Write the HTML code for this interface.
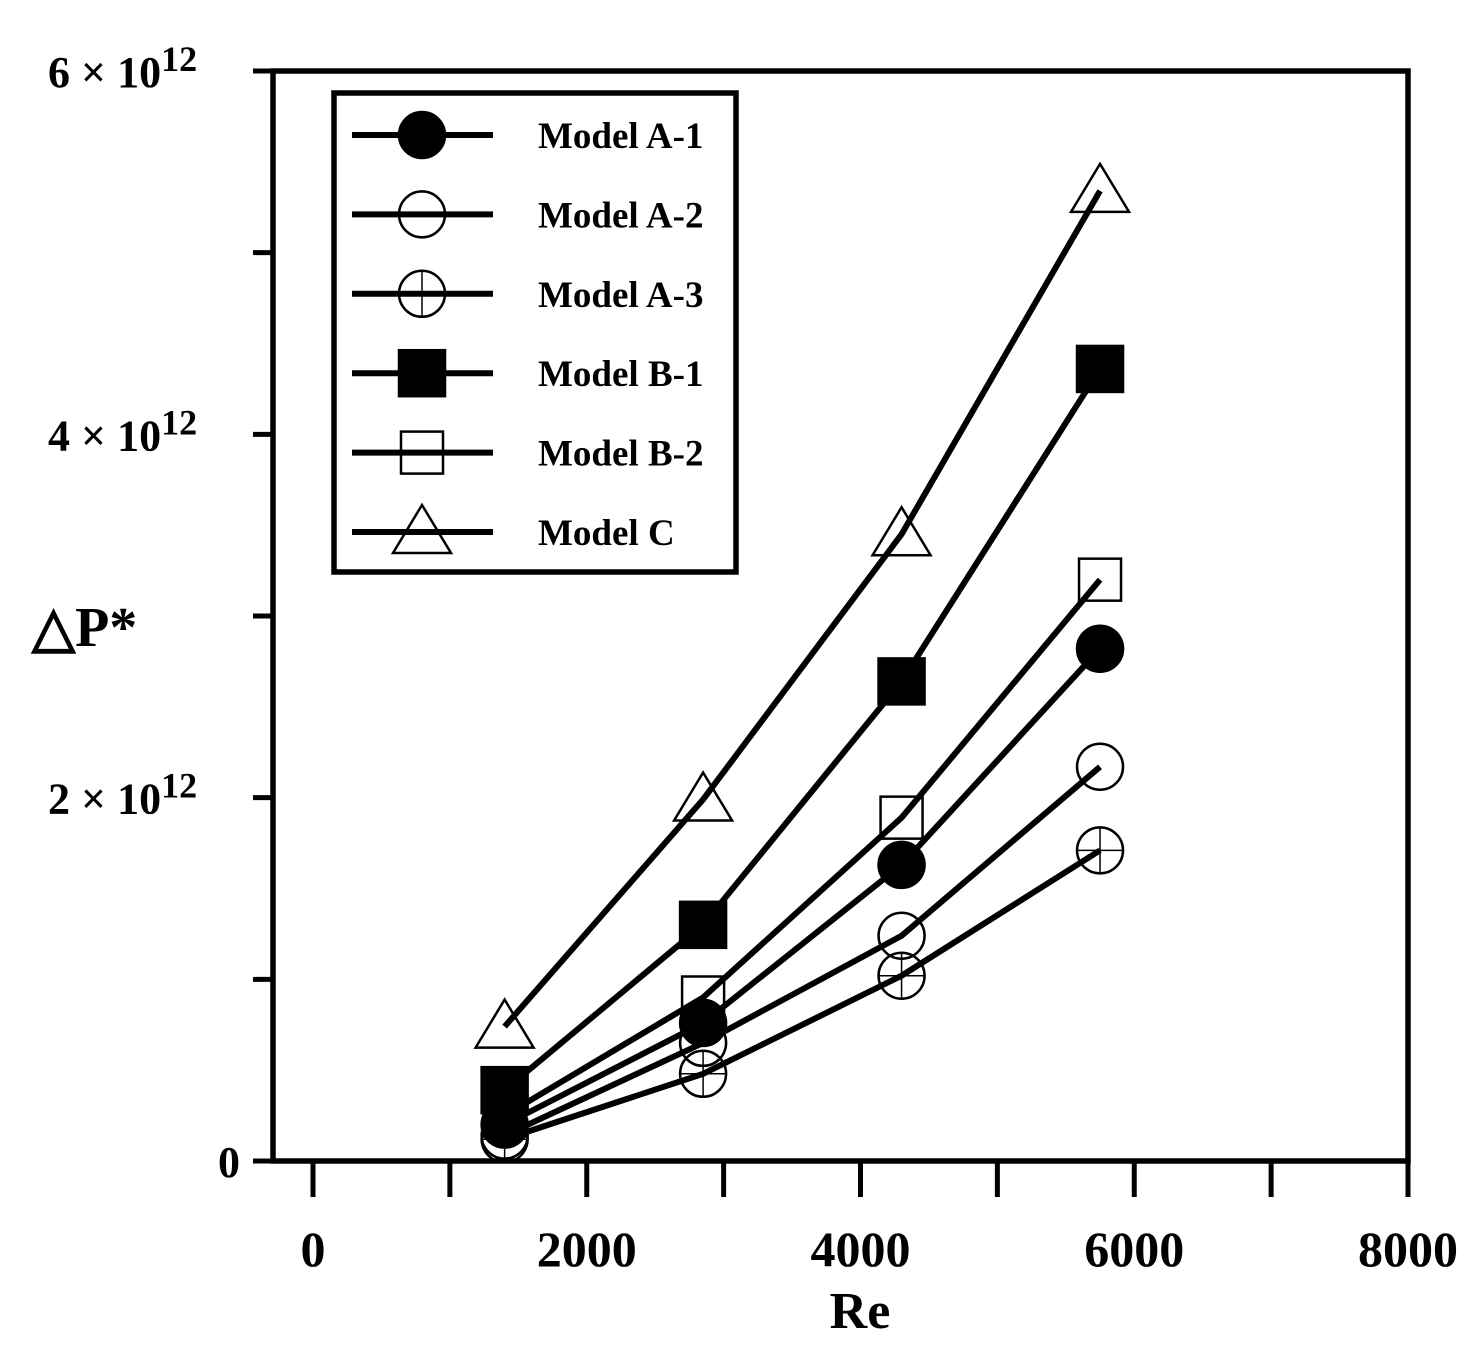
<!DOCTYPE html>
<html><head><meta charset="utf-8"><style>
html,body{margin:0;padding:0;background:#fff;}
svg{display:block;font-family:"Liberation Serif",serif;font-weight:bold;}
</style></head><body>
<svg id="chart" width="1483" height="1357" viewBox="0 0 1483 1357">
<g id="axes"></g>
<g id="series"></g>
<g id="legend"></g>
</svg>
<script>
const reValues = [1400, 2850, 4300, 5750];
const seriesNames = ["Model A-1","Model A-2","Model A-3","Model B-1","Model B-2","Model C"];
const seriesMarkers = ["circleFilled","circleOpen","circlePlus","squareFilled","squareOpen","triangle"];
const modelA1 = [0.20, 0.76, 1.63, 2.82];
const modelA2 = [0.14, 0.65, 1.24, 2.17];
const modelA3 = [0.12, 0.48, 1.02, 1.71];
const modelB1 = [0.39, 1.30, 2.64, 4.36];
const modelB2 = [0.25, 0.90, 1.89, 3.20];
const modelC = [0.74, 1.99, 3.45, 5.34];
const xTicks = [0, 2000, 4000, 6000, 8000];
const yTickMantissa = [0, 2, 4, 6];

const NS="http://www.w3.org/2000/svg";
const X0=313, X1=1408, Y0=1161, Y1=71, LEFT=273;
const xs=v=>X0+(v/8000)*(X1-X0);
const ys=v=>Y0-(v/6)*(Y0-Y1);
function mk(tag,attrs,parent){const e=document.createElementNS(NS,tag);for(const k in attrs)e.setAttribute(k,attrs[k]);parent.appendChild(e);return e;}
const axes=document.getElementById('axes');
let f=mk('path',{d:`M${LEFT},${Y1} H${X1} V${Y0} H${LEFT} Z`,fill:'none',stroke:'#000','stroke-width':5.5},axes);


for(let v=0;v<=8000;v+=1000){
  const t=mk('line',{x1:xs(v),x2:xs(v),y1:Y0,y2:Y0+36,stroke:'#000','stroke-width':5},axes);
  
  
}
xTicks.forEach(v=>{
  const t=mk('text',{x:xs(v),y:1266,'text-anchor':'middle','font-size':50},axes);
  t.textContent=String(v);
  
  
});
for(let v=0;v<=6;v+=1){
  const t=mk('line',{x1:LEFT-20,x2:LEFT,y1:ys(v),y2:ys(v),stroke:'#000','stroke-width':5},axes);
  
  
}
yTickMantissa.forEach(m=>{
  const t=mk('text',{x:240,y:ys(m)+16,'text-anchor':'end','font-size':44},axes);
  if(m===0){t.textContent='0';}
  else{
    t.setAttribute('x',48);t.setAttribute('text-anchor','start');
    const a=mk('tspan',{},t);a.textContent=m+' × 10';
    const b=mk('tspan',{dy:-16,'font-size':36},t);b.textContent='12';
  }
  
  
});
let xt=mk('text',{x:860,y:1328,'text-anchor':'middle','font-size':52},axes);xt.textContent='Re';


let yt=mk('text',{x:32,y:646,'font-size':56},axes);yt.textContent='△P*';



function marker(type,cx,cy,parent){
  const g=mk('g',{},parent);
  const s={stroke:'#000','stroke-width':2.5};
  if(type==='circleFilled')mk('circle',{cx,cy,r:23,fill:'#000',...s},g);
  if(type==='circleOpen')mk('circle',{cx,cy,r:23,fill:'none',...s},g);
  if(type==='circlePlus'){mk('circle',{cx,cy,r:23,fill:'none',...s},g);mk('path',{d:`M${cx-23},${cy}H${cx+23}M${cx},${cy-23}V${cy+23}`,...s,'stroke-width':1.5},g);}
  if(type==='squareFilled')mk('rect',{x:cx-23,y:cy-23,width:46,height:46,fill:'#000',...s},g);
  if(type==='squareOpen')mk('rect',{x:cx-21,y:cy-21,width:42,height:42,fill:'none',...s},g);
  if(type==='triangle')mk('path',{d:`M${cx},${cy-27}L${cx+29},${cy+21}L${cx-29},${cy+21}Z`,fill:'none',...s},g);
  return g;
}
const allSeries=[modelA1,modelA2,modelA3,modelB1,modelB2,modelC];
const sg=document.getElementById('series');
allSeries.forEach((vals,i)=>{
  const g=mk('g',{},sg);
  
  
  const pts=vals.map((v,j)=>xs(reValues[j])+','+ys(v)).join(' ');
  mk('polyline',{points:pts,fill:'none',stroke:'#000','stroke-width':6},g);
  vals.forEach((v,j)=>{
    const m=marker(seriesMarkers[i],xs(reValues[j]),ys(v),g);
    
    
  });
});
const lg=document.getElementById('legend');
let box=mk('rect',{x:334,y:93,width:402,height:479,fill:'#fff',stroke:'#000','stroke-width':5.5},lg);


seriesNames.forEach((n,i)=>{
  const y=135+i*79.4;
  const g=mk('g',{},lg);
  
  
  mk('line',{x1:352,x2:493,y1:y,y2:y,stroke:'#000','stroke-width':6},g);
  marker(seriesMarkers[i],422,y,g);
  const t=mk('text',{x:538,y:y+13,'font-size':37},g);t.textContent=n;
});
</script>
</body></html>
